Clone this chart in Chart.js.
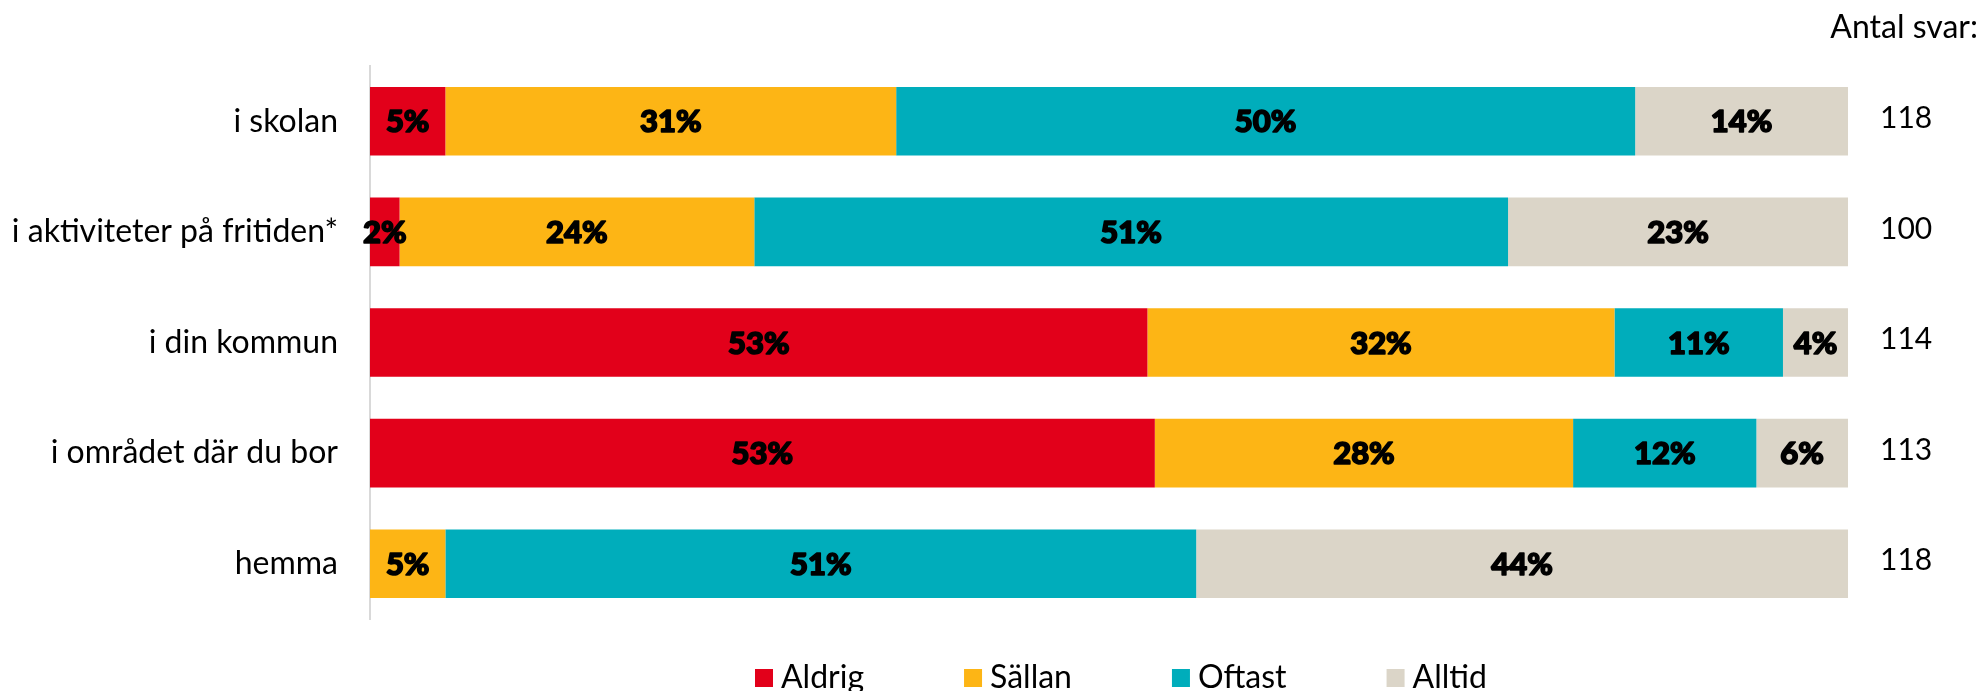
<!DOCTYPE html>
<html>
<head>
<meta charset="utf-8">
<script src="https://cdn.jsdelivr.net/npm/chart.js@4/dist/chart.umd.min.js"></script>
<style>
	body { margin: 0; background: #fff; }
	#wrap { width: 1980px; height: 691px; position: relative; }
</style>
</head>
<body>
<div id="wrap"><canvas id="svarChart"></canvas></div>
<script>
// categories (rows)
var categories = ["i skolan", "i aktiviteter på fritiden*", "i din kommun", "i området där du bor", "hemma"];
// share of answers in percent per row
var aldrig = [5.1, 2.0, 52.6, 53.1, 0];
var sallan = [30.5, 24.0, 31.6, 28.3, 5.1];
var oftast = [50.0, 51.0, 11.4, 12.4, 50.8];
var alltid = [14.4, 23.0, 4.4, 6.2, 44.1];
// number of answers per row
var antalSvar = [118, 100, 114, 113, 118];

var seriesNames = ["Aldrig", "Sällan", "Oftast", "Alltid"];
var seriesColors = ["#e2001a", "#fdb515", "#00adbb", "#dbd5c8"];

var labelFont = "Lato, 'DejaVu Sans', sans-serif";

// percent labels inside the bar segments (heavy look: fill + thin stroke)
var valueLabels = {
	id: 'valueLabels',
	afterDatasetsDraw: function(chart) {
		var ctx = chart.ctx;
		ctx.save();
		ctx.font = "900 31px " + labelFont;
		ctx.fillStyle = "#000";
		ctx.strokeStyle = "#000";
		ctx.lineWidth = 1.6;
		ctx.lineJoin = "round";
		ctx.textAlign = "center";
		ctx.textBaseline = "middle";
		chart.data.datasets.forEach(function(ds, i) {
			var meta = chart.getDatasetMeta(i);
			meta.data.forEach(function(bar, j) {
				var v = ds.data[j];
				if (!v) return;
				var cx = (bar.x + bar.base) / 2;
				ctx.strokeText(Math.round(v) + "%", cx, bar.y + 1);
				ctx.fillText(Math.round(v) + "%", cx, bar.y + 1);
			});
		});
		ctx.restore();
	}
};

// "Antal svar:" column on the right
var countColumn = {
	id: 'countColumn',
	afterDraw: function(chart) {
		var ctx = chart.ctx;
		var yScale = chart.scales.y;
		var x = chart.chartArea.right + 32;
		ctx.save();
		ctx.font = "30px " + labelFont;
		ctx.fillStyle = "#000";
		ctx.textBaseline = "middle";
		ctx.textAlign = "left";
		antalSvar.forEach(function(n, i) {
			ctx.fillText(String(n), x, yScale.getPixelForValue(i) - 3);
		});
		ctx.font = "32px " + labelFont;
		ctx.textAlign = "right";
		ctx.textBaseline = "alphabetic";
		ctx.fillText("Antal svar:", chart.width - 2, 38);
		ctx.restore();
	}
};

// legend along the bottom edge
var bottomLegend = {
	id: 'bottomLegend',
	afterDraw: function(chart) {
		var ctx = chart.ctx;
		var x = 755;
		var box = 18;
		ctx.save();
		ctx.font = "32px " + labelFont;
		ctx.textAlign = "left";
		ctx.textBaseline = "alphabetic";
		chart.data.datasets.forEach(function(ds) {
			ctx.fillStyle = ds.backgroundColor;
			ctx.fillRect(x, 669, box, box);
			ctx.fillStyle = "#000";
			ctx.fillText(ds.label, x + box + 8, 688);
			x += box + 8 + ctx.measureText(ds.label).width + 100;
		});
		ctx.restore();
	}
};

var allSeries = [aldrig, sallan, oftast, alltid];
var datasets = allSeries.map(function(values, i) {
	return {
		label: seriesNames[i],
		data: values,
		backgroundColor: seriesColors[i],
		borderWidth: 0,
		categoryPercentage: 1.0,
		barPercentage: 0.62
	};
});

var ctx = document.getElementById("svarChart").getContext("2d");
var svarChart = new Chart(ctx, {
	type: 'bar',
	data: {
		labels: categories,
		datasets: datasets
	},
	options: {
		indexAxis: 'y',
		responsive: true,
		maintainAspectRatio: false,
		animation: false,
		layout: {
			padding: { top: 66, right: 132, bottom: 72, left: 0 }
		},
		plugins: {
			legend: { display: false },
			tooltip: { enabled: false }
		},
		scales: {
			x: {
				stacked: true,
				min: 0,
				max: 100,
				display: false
			},
			y: {
				stacked: true,
				grid: { display: false, drawTicks: false },
				border: { display: true, color: '#d9d9d9', width: 2 },
				ticks: {
					color: '#000',
					padding: 32,
					font: { family: labelFont, size: 32 }
				},
				afterFit: function(scale) {
					scale.width = 370;
				}
			}
		}
	},
	plugins: [valueLabels, countColumn, bottomLegend]
});
</script>
</body>
</html>
